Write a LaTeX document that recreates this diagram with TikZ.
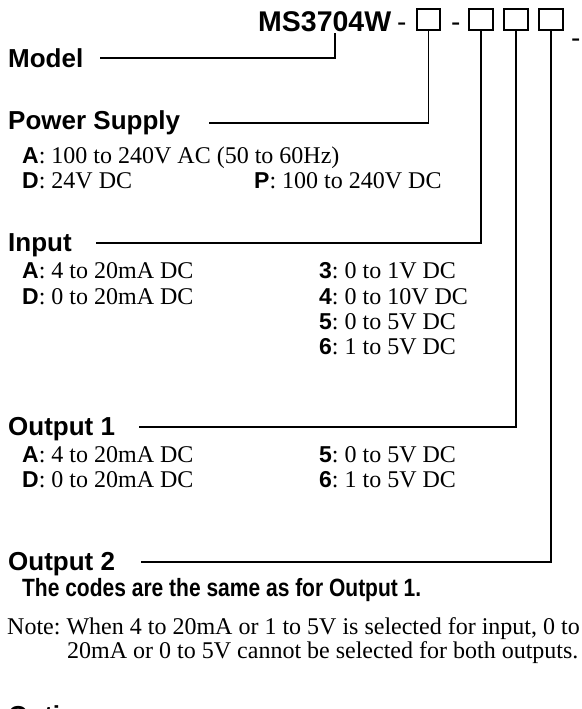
\documentclass[tikz,border=0pt]{standalone}
\usepackage{fontspec}
\setmainfont{Liberation Serif}
\setsansfont{Liberation Sans}
\newcommand\codeltr[1]{{\sffamily\bfseries\fontsize{23}{23}\selectfont #1}}
\frenchspacing
\begin{document}
\begin{tikzpicture}[x=1pt,y=-1pt,
  head/.style={anchor=base west,inner sep=0pt,font=\sffamily\bfseries\fontsize{26}{26}\selectfont},
  title/.style={anchor=base west,inner sep=0pt,font=\sffamily\bfseries\fontsize{28.5}{28.5}\selectfont},
  dashtxt/.style={anchor=base west,inner sep=0pt,font=\sffamily\fontsize{28}{28}\selectfont},
  item/.style={anchor=base west,inner sep=0pt,font=\fontsize{24}{24}\selectfont\frenchspacing},
  codebox/.style={draw,line width=1.8pt,inner sep=0pt,minimum width=23.5pt,minimum height=21pt},
  conn/.style={line width=1.2pt}]
\useasboundingbox (0,0) rectangle (581,709);
\clip (0,0) rectangle (581,709);
% header
\node[title] (model) at (258,32) {MS3704W};
\node[dashtxt] (d1) at (397,32) {-};
\node[codebox] (b1) at (428.5,19.5) {};
\node[dashtxt] (d2) at (451,32) {-};
\node[codebox] (b2) at (481,19.5) {};
\node[codebox] (b3) at (516,19.5) {};
\node[codebox] (b4) at (551,19.5) {};
\node[dashtxt] (d3) at (571,48) {-};
% Model
\node[head] (hmodel) at (8,67) {Model};
\coordinate (mp) at (335,33);
\coordinate (m0) at (100,58);
\draw[conn] (m0) -| (mp);
% Power supply
\node[head] (hps) at (8,129) {Power Supply};
\coordinate (p0) at (209,123);
\draw[conn] (p0) -| (b1.south);
\node[item] (psa) at (22,163) {\codeltr{A}: 100 to 240V AC (50 to 60Hz)};
\node[item] (psd) at (22,188) {\codeltr{D}: 24V DC};
\node[item] (psp) at (254,188) {\codeltr{P}: 100 to 240V DC};
% Input
\node[head] (hin) at (8,251) {Input};
\coordinate (i0) at (96,243);
\draw[conn] (i0) -| (b2.south);
\node[item] (ina) at (22,278) {\codeltr{A}: 4 to 20mA DC};
\node[item] (ind) at (22,304) {\codeltr{D}: 0 to 20mA DC};
\node[item] (in3) at (319,278) {\codeltr{3}: 0 to 1V DC};
\node[item] (in4) at (319,304) {\codeltr{4}: 0 to 10V DC};
\node[item] (in5) at (319,329) {\codeltr{5}: 0 to 5V DC};
\node[item] (in6) at (319,354) {\codeltr{6}: 1 to 5V DC};
% Output 1
\node[head] (ho1) at (8,435) {Output 1};
\coordinate (o10) at (139,427);
\draw[conn] (o10) -| (b3.south);
\node[item] (o1a) at (22,462) {\codeltr{A}: 4 to 20mA DC};
\node[item] (o1d) at (22,487) {\codeltr{D}: 0 to 20mA DC};
\node[item] (o15) at (319,462) {\codeltr{5}: 0 to 5V DC};
\node[item] (o16) at (319,487) {\codeltr{6}: 1 to 5V DC};
% Output 2
\node[head] (ho2) at (8,570) {Output 2};
\coordinate (o20) at (141,562);
\draw[conn] (o20) -| (b4.south);
\node[anchor=base west,inner sep=0pt,font=\sffamily\bfseries\fontsize{25}{25}\selectfont,xscale=0.84] (same) at (22,596) {The codes are the same as for Output 1.};
% Note
\node[item] (note1) at (7,634) {Note: When 4 to 20mA or 1 to 5V is selected for input, 0 to};
\node[item] (note2) at (67,658) {20mA or 0 to 5V cannot be selected for both outputs.};
% Options (cut off at the lower edge, as in the reference)
\node[head] (hopt) at (8,724) {Options};
\end{tikzpicture}
\end{document}
